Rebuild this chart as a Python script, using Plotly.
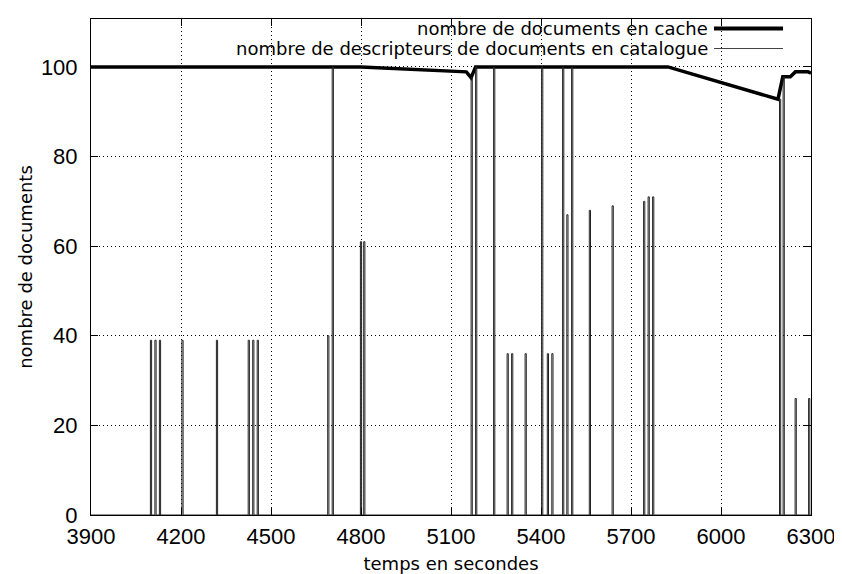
import plotly.graph_objects as go

# ---- data ----
x_range = [3900, 6300]
y_range = [0, 110.7]
x_ticks = [3900, 4200, 4500, 4800, 5100, 5400, 5700, 6000, 6300]
y_ticks = [0, 20, 40, 60, 80, 100]

cache_t = [3900, 4800, 5151, 5167, 5182, 5823, 6190, 6206, 6231, 6248, 6290, 6300]
cache_v = [100, 100, 98.9, 97.6, 100, 100, 92.8, 97.8, 97.8, 98.9, 98.9, 98.6]

spike_t = [4098, 4113, 4128, 4203, 4318, 4424, 4439, 4454, 4689, 4704, 4798, 4809,
           5167, 5182, 5242, 5287, 5302, 5347, 5402, 5421, 5436, 5472, 5486, 5502,
           5561, 5637, 5742, 5757, 5772, 6195, 6207, 6247, 6292]
spike_v = [39, 39, 39, 39, 39, 39, 39, 39, 40, 100, 61, 61,
           97.6, 100, 100, 36, 36, 36, 100, 36, 36, 100, 67, 100,
           68, 69, 70, 71, 71, 92.8, 97.8, 26, 26]
spike_w = 4  # seconds between rise and fall

label_cache = "nombre de documents en cache"
label_cat = "nombre de descripteurs de documents en catalogue"
x_title = "temps en secondes"
y_title = "nombre de documents"

# build catalogue polyline
cat_x = [x_range[0]]
cat_y = [0]
for t, v in zip(spike_t, spike_v):
    cat_x += [t, t, t + spike_w, t + spike_w]
    cat_y += [0, v, v, 0]
cat_x.append(x_range[1])
cat_y.append(0)

# page body has an 8px margin: figure placed at (8, 8) in the window
OFF = 8
W, H = 842 - OFF, 574 - OFF
PL, PR, PT, PB = 91, 811, 19, 515          # plot area in window pixels
L, R, T, B = PL - OFF, W - (PR - OFF), PT - OFF, H - (PB - OFF)

fig = go.Figure()
fig.add_trace(go.Scatter(x=cache_t, y=cache_v, mode="lines",
                         line=dict(color="black", width=3.5), showlegend=False))
fig.add_trace(go.Scatter(x=cat_x, y=cat_y, mode="lines",
                         line=dict(color="#222222", width=1), showlegend=False))

def px(xw):
    return (xw - PL) / (PR - PL)
def py(yw):
    return (PB - yw) / (PB - PT)

# custom gnuplot-like legend (text right aligned, sample to the right)
legend_font = dict(family="DejaVu Sans", size=18, color="black")
for lab, ycen, width, col in [(label_cache, 28.5, 4, "black"), (label_cat, 48.5, 1, "#444444")]:
    fig.add_annotation(x=px(710), y=py(ycen), xref="paper", yref="paper",
                       text=lab, showarrow=False, xanchor="right", yanchor="middle",
                       font=legend_font)
    fig.add_shape(type="line", xref="paper", yref="paper",
                  x0=px(714), x1=px(783), y0=py(ycen), y1=py(ycen),
                  line=dict(color=col, width=width))

axis_common = dict(
    showline=True, linecolor="black", linewidth=1, mirror="ticks",
    ticks="inside", ticklen=7, tickcolor="black", tickwidth=1,
    showgrid=True, gridcolor="black", griddash="1px,3px", gridwidth=1,
    zeroline=False,
    tickfont=dict(family="Liberation Sans", size=22, color="black"),
)

fig.update_xaxes(range=x_range, tickvals=x_ticks, ticktext=[str(v) for v in x_ticks],
                 title=dict(text=x_title, font=dict(family="DejaVu Sans", size=18, color="black"),
                            standoff=22),
                 ticklabelstandoff=2,
                 **axis_common)
fig.update_yaxes(range=y_range, tickvals=y_ticks, ticktext=[str(v) for v in y_ticks],
                 title=dict(text=y_title, font=dict(family="DejaVu Sans", size=18, color="black"),
                            standoff=3),
                 ticklabelstandoff=8,
                 **axis_common)

fig.update_layout(width=W, height=H, margin=dict(l=L, r=R, t=T, b=B, autoexpand=False),
                  plot_bgcolor="white", paper_bgcolor="white", showlegend=False)

fig.write_html("out.html")
